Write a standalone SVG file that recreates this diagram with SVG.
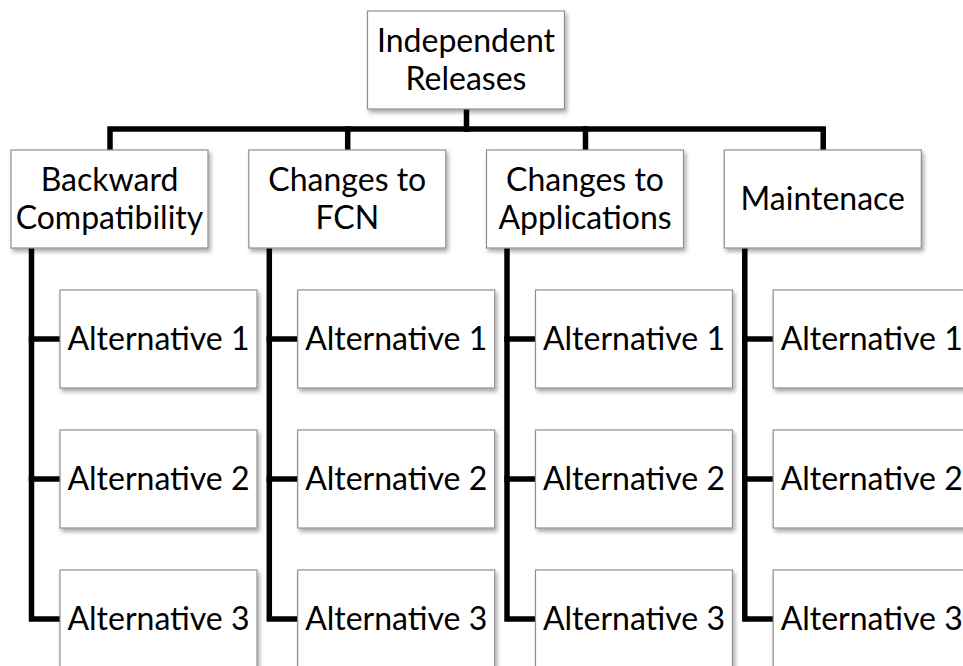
<svg xmlns="http://www.w3.org/2000/svg" width="963" height="666" viewBox="0 0 963 666">
  <defs>
    <filter id="shadow" x="-10%" y="-10%" width="130%" height="130%">
      <feDropShadow dx="2" dy="3" stdDeviation="2" flood-color="#000" flood-opacity="0.35"/>
    </filter>
  </defs>
  <style>
    .box { fill: #ffffff; stroke: #8f8f8f; stroke-width: 1.2; filter: url(#shadow); }
    .lbl { font-family: Lato, "Open Sans", "Liberation Sans", sans-serif; font-size: 32px; fill: #000; text-anchor: middle; }
    .wire { fill: none; stroke: #000; stroke-width: 5.5; stroke-linejoin: miter; stroke-linecap: square; }
  </style>
  <rect width="963" height="666" fill="#ffffff"/>

  <!-- connectors -->
  <g id="connectors" class="wire">
    <path d="M466.5 110 V129"/>
    <path d="M110 150 V129 H823.2 V150"/>
    <path d="M347.7 129 V150"/>
    <path d="M585.5 129 V150"/>
    <!-- column 1 trunk -->
    <path d="M31.5 249 V619 H60"/>
    <path d="M31.5 339 H60"/>
    <path d="M31.5 479 H60"/>
    <!-- column 2 trunk -->
    <path d="M269.3 249 V619 H297.7"/>
    <path d="M269.3 339 H297.7"/>
    <path d="M269.3 479 H297.7"/>
    <!-- column 3 trunk -->
    <path d="M507 249 V619 H535.5"/>
    <path d="M507 339 H535.5"/>
    <path d="M507 479 H535.5"/>
    <!-- column 4 trunk -->
    <path d="M744.8 249 V619 H773.2"/>
    <path d="M744.8 339 H773.2"/>
    <path d="M744.8 479 H773.2"/>
  </g>

  <!-- root -->
  <g id="root">
    <rect class="box" x="367.5" y="11" width="197" height="98"/>
    <text class="lbl" x="466" y="52">Independent</text>
    <text class="lbl" x="466" y="90">Releases</text>
  </g>

  <!-- categories -->
  <g id="cat-backward">
    <rect class="box" x="11" y="150" width="197" height="98"/>
    <text class="lbl" x="109.5" y="191">Backward</text>
    <text class="lbl" x="109.5" y="228.5">Compatibility</text>
  </g>
  <g id="cat-fcn">
    <rect class="box" x="248.8" y="150" width="197" height="98"/>
    <text class="lbl" x="347.3" y="191">Changes to</text>
    <text class="lbl" x="347.3" y="228.5">FCN</text>
  </g>
  <g id="cat-apps">
    <rect class="box" x="486.5" y="150" width="197" height="98"/>
    <text class="lbl" x="585" y="191">Changes to</text>
    <text class="lbl" x="585" y="228.5">Applications</text>
  </g>
  <g id="cat-maint">
    <rect class="box" x="724.3" y="150" width="197" height="98"/>
    <text class="lbl" x="822.8" y="209.5">Maintenace</text>
  </g>

  <!-- alternatives, column 1 -->
  <g id="c1-alt1"><rect class="box" x="60" y="290" width="197" height="98"/><text class="lbl" x="158.5" y="349.5">Alternative 1</text></g>
  <g id="c1-alt2"><rect class="box" x="60" y="430" width="197" height="98"/><text class="lbl" x="158.5" y="489.5">Alternative 2</text></g>
  <g id="c1-alt3"><rect class="box" x="60" y="570" width="197" height="98"/><text class="lbl" x="158.5" y="629.5">Alternative 3</text></g>

  <!-- alternatives, column 2 -->
  <g id="c2-alt1"><rect class="box" x="297.7" y="290" width="197" height="98"/><text class="lbl" x="396.2" y="349.5">Alternative 1</text></g>
  <g id="c2-alt2"><rect class="box" x="297.7" y="430" width="197" height="98"/><text class="lbl" x="396.2" y="489.5">Alternative 2</text></g>
  <g id="c2-alt3"><rect class="box" x="297.7" y="570" width="197" height="98"/><text class="lbl" x="396.2" y="629.5">Alternative 3</text></g>

  <!-- alternatives, column 3 -->
  <g id="c3-alt1"><rect class="box" x="535.5" y="290" width="197" height="98"/><text class="lbl" x="634" y="349.5">Alternative 1</text></g>
  <g id="c3-alt2"><rect class="box" x="535.5" y="430" width="197" height="98"/><text class="lbl" x="634" y="489.5">Alternative 2</text></g>
  <g id="c3-alt3"><rect class="box" x="535.5" y="570" width="197" height="98"/><text class="lbl" x="634" y="629.5">Alternative 3</text></g>

  <!-- alternatives, column 4 -->
  <g id="c4-alt1"><rect class="box" x="773.2" y="290" width="197" height="98"/><text class="lbl" x="871.7" y="349.5">Alternative 1</text></g>
  <g id="c4-alt2"><rect class="box" x="773.2" y="430" width="197" height="98"/><text class="lbl" x="871.7" y="489.5">Alternative 2</text></g>
  <g id="c4-alt3"><rect class="box" x="773.2" y="570" width="197" height="98"/><text class="lbl" x="871.7" y="629.5">Alternative 3</text></g>
</svg>
